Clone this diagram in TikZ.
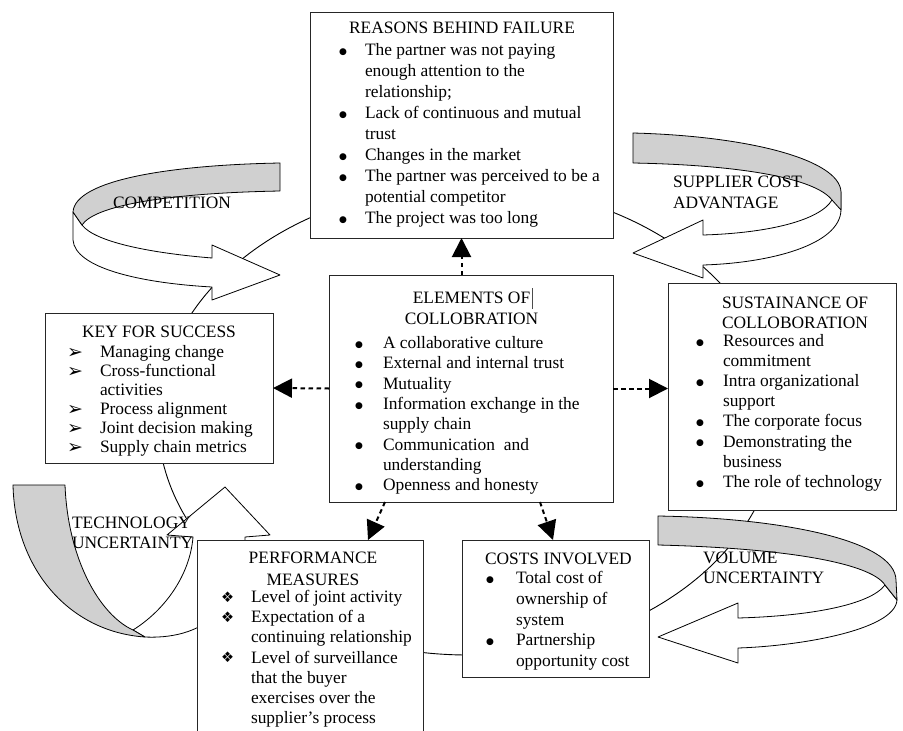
\documentclass[tikz,border=0pt]{standalone}
\usepackage{fontspec}
\setmainfont{Liberation Serif}
\newfontfamily\dvsfont{DejaVu Sans}
\usetikzlibrary{arrows.meta,calc}
\definecolor{bandgray}{RGB}{208,208,208}
\newcommand\mybul{\raisebox{1.2pt}{\dvsfont\fontsize{9}{9}\selectfont ●}}
\newcommand\myarw{\raisebox{-1pt}{\dvsfont\fontsize{19}{19}\selectfont ➢}}
\newcommand\mydia{\raisebox{0.5pt}{\dvsfont\fontsize{14.5}{14.5}\selectfont ❖}}
\begin{document}
\begin{tikzpicture}[x=1pt,y=-1pt,font=\fontsize{17.4}{21}\selectfont,
  box/.style={draw=black!85,line width=1pt,fill=white,inner sep=0pt,outer sep=0pt},
  txt/.style={inner sep=0pt,outer sep=0pt,anchor=base west},
  ctxt/.style={inner sep=0pt,outer sep=0pt,anchor=base},
  dasharrow/.style={line width=2pt,dash pattern=on 4.5pt off 3.5pt,-{Triangle[length=19pt,width=19pt]}},
  band/.style={draw=black,line width=0.8pt,line join=round}]
\useasboundingbox (0,0) rectangle (903,731);
\begin{scope}
\clip (0,0) rectangle (903,731);
% background ellipse
\draw[line width=0.9pt] (468,420) ellipse [x radius=310, y radius=235];
% COMPETITION arrow
\draw[band,fill=white] (82,225) .. controls (95,242) and (150,253) .. (212,258) -- (212,245) -- (280,275) -- (212,300) -- (212,287) .. controls (140,283) and (75,268) .. (73,240) -- (73,212) -- cycle;
\draw[band,fill=bandgray] (280,163) .. controls (170,165) and (75,180) .. (73,212) -- (82,225) .. controls (95,205) and (170,193) .. (280,191) -- cycle;
% SUPPLIER COST ADVANTAGE arrow
\draw[band,fill=white] (832,200) .. controls (820,220) and (770,233) .. (703,235) -- (703,220) -- (633,253) -- (703,278) -- (703,265) .. controls (770,263) and (840,245) .. (841,210) -- (841,192) -- cycle;
\draw[band,fill=bandgray] (633,133) .. controls (750,136) and (840,160) .. (841,192) -- (841,210) -- (832,200) .. controls (815,178) and (740,165) .. (633,163) -- cycle;
% TECHNOLOGY UNCERTAINTY arrow
\draw[band,fill=white] (133,630) .. controls (165,610) and (190,575) .. (193,537) -- (167,535) -- (225,487) -- (270,535) -- (245,537) .. controls (245,600) and (210,640) .. (145,637) -- cycle;
\draw[band,fill=bandgray] (13,485) -- (65,485) .. controls (68,560) and (100,615) .. (133,630) -- (145,637) .. controls (70,632) and (15,570) .. (13,485) -- cycle;
% VOLUME UNCERTAINTY arrow
\draw[band,fill=white] (885,585) .. controls (870,605) and (810,616) .. (738,618) -- (738,603) -- (658,637) -- (738,663) -- (738,648) .. controls (800,646) and (895,630) .. (897,600) -- cycle;
\draw[band,fill=bandgray] (658,516) .. controls (780,518) and (895,540) .. (896,580) -- (897,600) -- (885,585) .. controls (870,562) and (780,548) .. (658,545) -- cycle;

% boxes
\node[box,minimum width=303pt,minimum height=226pt] (reasons) at (461.5,125) {};
\node[box,minimum width=284pt,minimum height=227pt] (elem) at (471,388.5) {};
\node[box,minimum width=228pt,minimum height=150pt] (key) at (159,388) {};
\node[box,minimum width=228pt,minimum height=227pt] (sust) at (782,396.5) {};
\node[box,minimum width=226pt,minimum height=220pt] (perf) at (310,650) {};
\node[box,minimum width=187pt,minimum height=137pt] (costs) at (555.5,608.5) {};

% REASONS BEHIND FAILURE
\node[ctxt] (rtitle) at (462,33.5) {REASONS BEHIND FAILURE};
\node[txt,font=\fontsize{17.4}{21}\selectfont] (rlist) at (339,55.5) {\begin{tabular}[t]{@{}p{26pt}@{}l@{}}
\mybul & The partner was not paying\\
 & enough attention to the\\
 & relationship;\\
\mybul & Lack of continuous and mutual\\
 & trust\\
\mybul & Changes in the market\\
\mybul & The partner was perceived to be a\\
 & potential competitor\\
\mybul & The project was too long
\end{tabular}};

% ELEMENTS OF COLLOBRATION
\node[ctxt,font=\fontsize{17.4}{21}\selectfont] (etitle) at (471.5,303.5) {\begin{tabular}[t]{@{}c@{}}ELEMENTS OF\\ COLLOBRATION\end{tabular}};
\draw[line width=0.7pt,black!70] (532,288) -- (532,309);
\node[txt,font=\fontsize{17.4}{20.3}\selectfont] (elist) at (355,348.5) {\begin{tabular}[t]{@{}p{28pt}@{}l@{}}
\mybul & A collaborative culture\\
\mybul & External and internal trust\\
\mybul & Mutuality\\
\mybul & Information exchange in the\\
 & supply chain\\
\mybul & Communication\ \ and\\
 & understanding\\
\mybul & Openness and honesty
\end{tabular}};

% KEY FOR SUCCESS
\node[ctxt] (ktitle) at (159,337.5) {KEY FOR SUCCESS};
\node[txt,font=\fontsize{17.4}{19}\selectfont] (klist) at (67,357.5) {\begin{tabular}[t]{@{}p{33pt}@{}l@{}}
\myarw & Managing change\\
\myarw & Cross-functional\\
 & activities\\
\myarw & Process alignment\\
\myarw & Joint decision making\\
\myarw & Supply chain metrics
\end{tabular}};

% SUSTAINANCE OF COLLOBORATION
\node[txt,font=\fontsize{17.4}{20}\selectfont] (stitle) at (722,308.5) {\begin{tabular}[t]{@{}l@{}}SUSTAINANCE OF\\ COLLOBORATION\end{tabular}};
\node[txt,font=\fontsize{17.4}{20.1}\selectfont] (slist) at (696,346.5) {\begin{tabular}[t]{@{}p{27pt}@{}l@{}}
\mybul & Resources and\\
 & commitment\\
\mybul & Intra organizational\\
 & support\\
\mybul & The corporate focus\\
\mybul & Demonstrating the\\
 & business\\
\mybul & The role of technology
\end{tabular}};

% PERFORMANCE MEASURES
\node[ctxt,font=\fontsize{17.4}{22}\selectfont] (ptitle) at (313,563.5) {\begin{tabular}[t]{@{}c@{}}PERFORMANCE\\ MEASURES\end{tabular}};
\node[txt,font=\fontsize{17.4}{20.2}\selectfont] (plist) at (221,602.5) {\begin{tabular}[t]{@{}p{30pt}@{}l@{}}
\mydia & Level of joint activity\\
\mydia & Expectation of a\\
 & continuing relationship\\
\mydia & Level of surveillance\\
 & that the buyer\\
 & exercises over the\\
 & supplier’s process
\end{tabular}};

% COSTS INVOLVED
\node[txt] (ctitle) at (485,564.5) {COSTS INVOLVED};
\node[txt,font=\fontsize{17.4}{20.75}\selectfont] (clist) at (486,583.5) {\begin{tabular}[t]{@{}p{30pt}@{}l@{}}
\mybul & Total cost of\\
 & ownership of\\
 & system\\
\mybul & Partnership\\
 & opportunity cost
\end{tabular}};

% dashed connectors
\draw[dasharrow] (elem.north -| reasons.south) -- (reasons.south);
\draw[dasharrow] (elem.west) -- (key.east);
\draw[dasharrow] (elem.east) -- (sust.west |- elem.east);
\draw[dasharrow] ($(elem.south west)+(56,0)$) -- ($(perf.north west)+(171,0)$);
\draw[dasharrow] ($(elem.south west)+(211,0)$) -- ($(costs.north west)+(91,0)$);

% arrow labels
\node[txt] (lcomp) at (113,208.5) {COMPETITION};
\node[txt,font=\fontsize{17.4}{21}\selectfont] (lsup) at (673,187.5) {\begin{tabular}[t]{@{}l@{}}SUPPLIER COST\\ ADVANTAGE\end{tabular}};
\node[txt,font=\fontsize{17.4}{20}\selectfont] (ltech) at (72,528.5) {\begin{tabular}[t]{@{}l@{}}TECHNOLOGY\\ UNCERTAINTY\end{tabular}};
\node[txt,font=\fontsize{17.4}{20}\selectfont] (lvol) at (703,563.5) {\begin{tabular}[t]{@{}l@{}}VOLUME\\ UNCERTAINTY\end{tabular}};
\end{scope}
\end{tikzpicture}
\end{document}
